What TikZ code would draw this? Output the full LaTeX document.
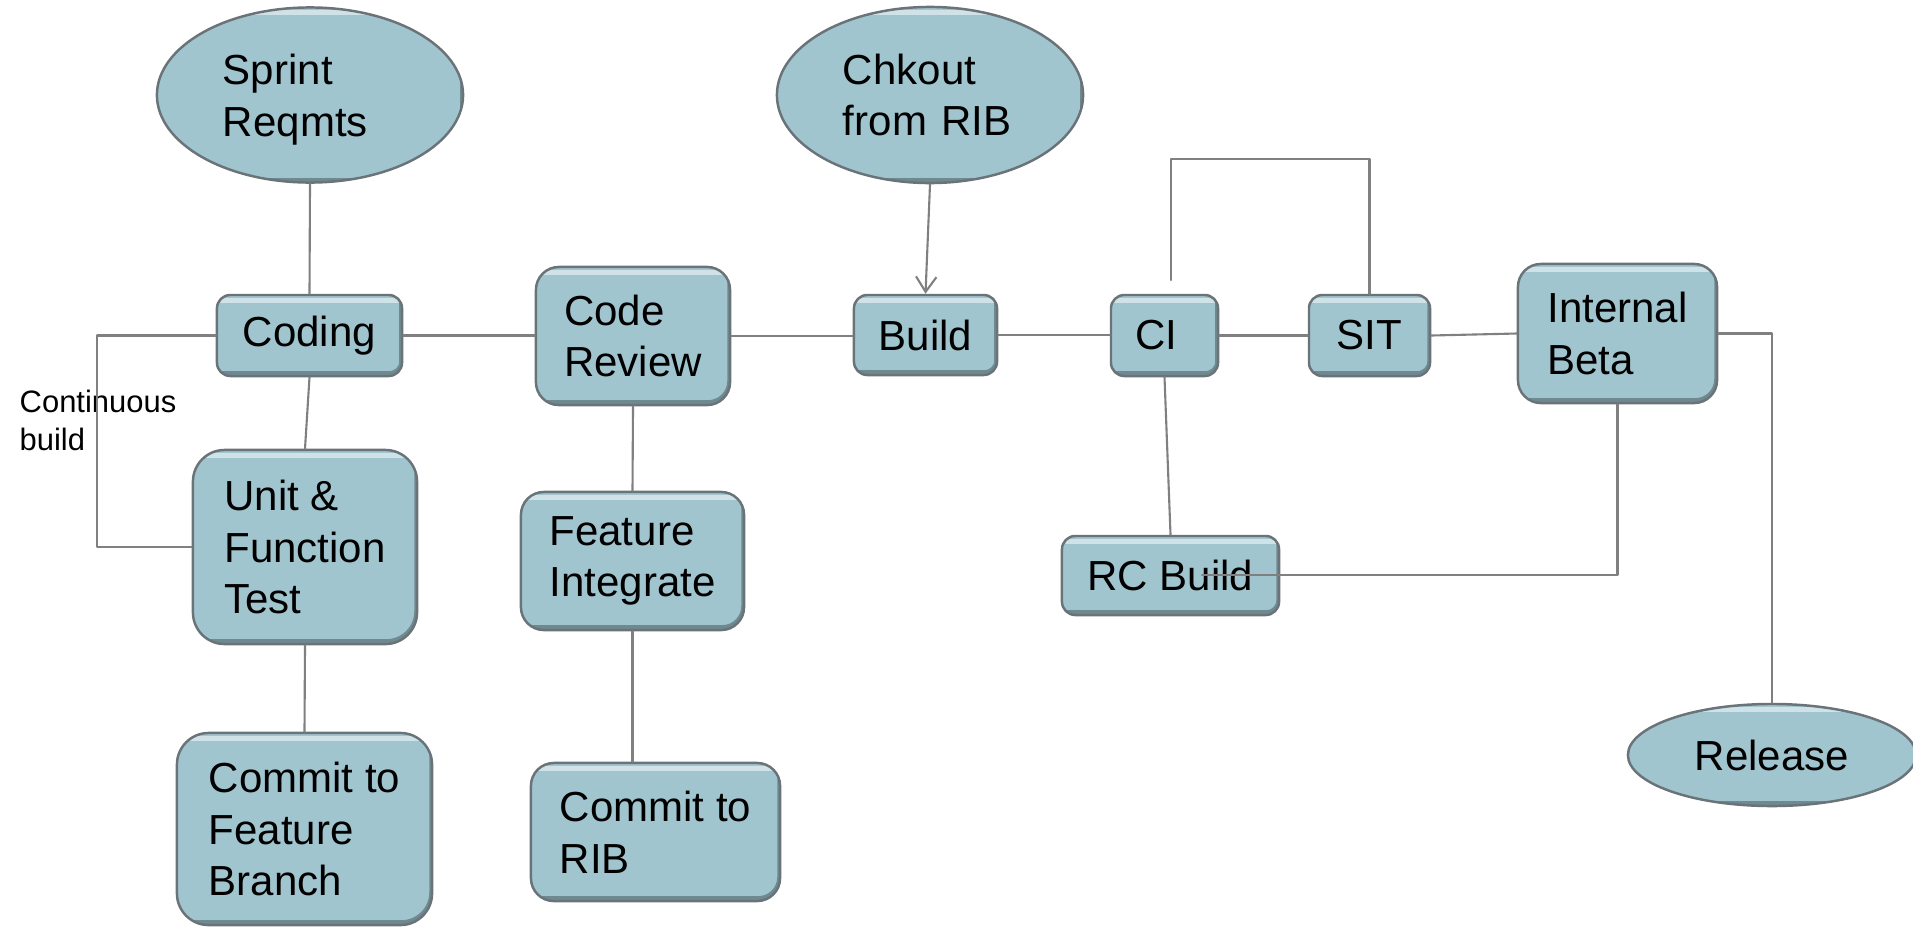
\documentclass[tikz,border=0pt]{standalone}
\usepackage{fontspec}
\setmainfont{Liberation Sans}
\usetikzlibrary{shapes.geometric,arrows.meta}
\definecolor{boxfill}{RGB}{160,197,207}
\definecolor{boxline}{RGB}{105,115,120}
\definecolor{linkgray}{RGB}{128,128,128}
\tikzset{
	stage/.style={rectangle,draw=boxline,line width=0.7pt,fill=boxfill,inner sep=0pt,
		font=\fontsize{11.95}{14.7}\selectfont,
		path picture={
			\draw[white,line width=1.4pt,opacity=0.5] ([yshift=-1.5pt]path picture bounding box.north west) -- ([yshift=-1.5pt]path picture bounding box.north east);
			\draw[black,line width=2.2pt,opacity=0.3] ([xshift=0.3pt]path picture bounding box.north east) -- ([xshift=0.3pt,yshift=0.3pt]path picture bounding box.south east) -- ([yshift=0.3pt]path picture bounding box.south west);
		}},
	endpoint/.style={stage,ellipse},
	link/.style={draw=linkgray,line width=0.6pt},
}
\begin{document}
\begin{tikzpicture}[line cap=round,line join=round,x=0.01cm,y=0.01cm]
		\useasboundingbox (0,0) rectangle (1913,-927);
		% start and end points
		\node[endpoint,minimum width=3.06cm,minimum height=1.75cm,text width=1.74cm,text depth=0.51cm,align=left] (sprint) at (310,-95) {Sprint\\Reqmts};
		\node[endpoint,minimum width=3.06cm,minimum height=1.76cm,text width=1.74cm,align=left] (chkout) at (930,-95) {Chkout\\from RIB};
		\node[endpoint,minimum width=2.88cm,minimum height=1.02cm] (release) at (1772,-755) {Release};
		% stages
		\node[stage,minimum width=1.85cm,minimum height=0.81cm,rounded corners=3.8pt] (coding) at (309.5,-335.5) {Coding};
		\node[stage,minimum width=2.24cm,minimum height=1.94cm,rounded corners=9pt,align=left] (unit) at (305,-547) {Unit \&\\Function\\Test};
		\node[stage,minimum width=2.55cm,minimum height=1.92cm,rounded corners=9pt,align=left] (commitfb) at (304.5,-829) {Commit to\\Feature\\Branch};
		\node[stage,minimum width=1.94cm,minimum height=1.38cm,rounded corners=6.5pt,align=left] (review) at (633,-336) {Code\\Review};
		\node[stage,minimum width=2.23cm,minimum height=1.38cm,rounded corners=6.5pt,align=left] (featint) at (632.5,-561) {Feature\\Integrate};
		\node[stage,minimum width=2.49cm,minimum height=1.38cm,rounded corners=6.5pt,align=left] (commitrib) at (655.5,-832) {Commit to\\RIB};
		\node[stage,minimum width=1.43cm,minimum height=0.80cm,rounded corners=3.8pt] (build) at (925.5,-335) {Build};
		\node[stage,minimum width=1.07cm,minimum height=0.81cm,rounded corners=3.8pt,text width=0.59cm,align=left] (ci) at (1164.5,-335.5) {CI};
		\node[stage,minimum width=1.21cm,minimum height=0.81cm,rounded corners=3.8pt] (sit) at (1369.5,-335.5) {SIT};
		\node[stage,minimum width=1.99cm,minimum height=1.39cm,rounded corners=6.5pt,align=left] (beta) at (1617.5,-333.5) {Internal\\Beta};
		\node[stage,minimum width=2.17cm,minimum height=0.79cm,rounded corners=3.8pt] (rcbuild) at (1170.5,-575.5) {RC Build};
		\node[anchor=north west,inner sep=0pt,align=left,font=\fontsize{8.8}{10.8}\selectfont] (contlabel) at (19,-389) {Continuous\\build};
		% free ends
		\coordinate (citop) at (1171,-280);
		\coordinate (rcend) at (1202,-575);
		% connectors
		\draw[link] (sprint.south) -- (coding.north);
		\draw[link,-{Straight Barb[length=4.3pt,width=5.8pt]}] (chkout.south) -- (build.north);
		\draw[link] (coding.east) -- (coding.east -| review.west);
		\draw[link] (review.east) -- (review.east -| build.west);
		\draw[link] (build.east) -- (build.east -| ci.west);
		\draw[link] (ci.east) -- (ci.east -| sit.west);
		\draw[link] (sit.east) -- (beta.west);
		\draw[link] (coding.south) -- (unit.north);
		\draw[link] (unit.south) -- (commitfb.north);
		\draw[link] (coding.west) -- ++(-119,0) |- (unit.west);
		\draw[link] (review.south) -- (featint.north);
		\draw[link] (featint.south) -- (featint.south |- commitrib.north);
		\draw[link] (ci.south) -- (rcbuild.north);
		\draw[link] (citop) -- ++(0,121) -| (sit.north);
		\draw[link] (beta.south) |- (rcend);
		\draw[link] (beta.east) -| (release.north);
\end{tikzpicture}
\end{document}
